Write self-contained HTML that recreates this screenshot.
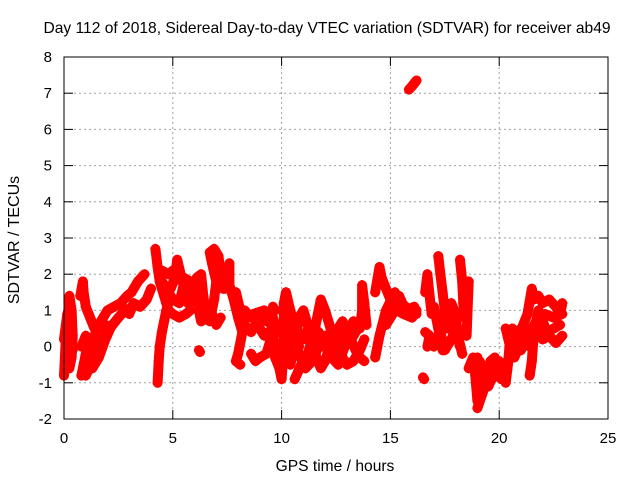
<!DOCTYPE html>
<html><head><meta charset="utf-8"><style>
body{margin:0;background:#fff}
svg{display:block;font-family:"Liberation Sans",sans-serif}
</style></head><body>
<svg id="chart" width="640" height="480" viewBox="0 0 640 480">
<rect width="640" height="480" fill="#fff"/>
<text x="327" y="33" font-size="15.6" text-anchor="middle">Day 112 of 2018, Sidereal Day-to-day VTEC variation (SDTVAR) for receiver ab49</text>
<g id="grid"></g>
<g id="ticks"></g>
<g id="marks"></g>
<rect x="64" y="57" width="544" height="362" fill="none" stroke="#000" stroke-width="1"/>
<text x="335" y="471" font-size="15.6" text-anchor="middle">GPS time / hours</text>
<text transform="translate(19,240) rotate(-90)" font-size="16" text-anchor="middle">SDTVAR / TECUs</text>
</svg>
<script>
const xTicks=[0,5,10,15,20,25];
const yTicks=[-2,-1,0,1,2,3,4,5,6,7,8];
const traceA=[[0,-0.8],[0.05,-0.2],[0.1,0.5],[0.2,1.0],[0.25,1.4],[0.35,1.0],[0.4,0.3],[0.35,-0.3],[0.25,-0.6],[0.15,-0.3],[0.1,0.3]];
const traceB=[[0.8,-0.8],[0.9,-0.5],[1.0,-0.2],[1.2,0],[1.4,0.3],[1.6,0.6],[1.8,0.8],[2.0,1.0],[2.3,1.1],[2.6,1.2],[2.9,1.4],[3.1,1.5],[3.4,1.8],[3.7,2.0]];
const traceC=[[0.75,1.4],[0.87,1.8],[0.9,1.5],[1.0,1.1],[1.2,0.8],[1.4,0.5],[1.6,0.5],[1.9,0.6]];
const traceD=[[0.8,0],[1.0,0.3],[1.2,-0.3],[1.3,-0.6],[1.6,-0.3],[1.9,0.2],[2.2,0.6]];
const traceE=[[3.0,0.9],[3.2,1.2],[3.5,1.1],[3.8,1.3],[4.0,1.6]];
const traceF=[[4.2,2.7],[4.3,2.2],[4.4,1.8],[4.5,1.6],[4.7,1.2],[4.8,1.0],[5.0,0.9],[5.3,0.8],[5.6,0.9],[5.8,1.0]];
const traceG=[[4.4,1.9],[4.6,1.7],[4.9,1.6],[5.1,1.9],[5.2,2.4],[5.4,1.9],[5.6,1.5],[5.7,1.2],[5.8,1.8],[5.5,1.9]];
const traceH=[[4.3,-1.0],[4.35,-0.4],[4.4,0],[4.5,0.4],[4.6,0.7],[4.7,1.0],[4.9,1.4]];
const traceI=[[6.1,1.2],[6.1,1.9],[6.3,2.0],[6.4,1.4],[6.5,1.0],[6.7,0.7],[6.9,1.3],[7.0,1.8],[6.8,2.3],[6.7,2.6],[6.9,2.7],[7.1,2.5],[7.2,2.0],[7.3,1.6],[7.4,1.6]];
const traceJ=[[6.2,1.0],[6.3,0.7],[6.6,0.8],[6.8,0.9],[7.0,0.6],[7.2,0.8]];
const traceK=[[6.2,-0.1],[6.25,-0.15]];
const traceL=[[7.6,2.3],[7.6,1.7],[7.8,1.3],[8.0,0.8],[8.2,0.4],[8.0,-0.2],[7.9,-0.4],[8.1,-0.5]];
const traceM=[[7.9,1.5],[8.1,1.0],[8.3,0.6],[8.6,0.4],[8.8,0.6],[9.0,0.5],[9.2,0.3],[9.4,0.4]];
const traceN=[[8.7,0.9],[9.2,1.0],[9.6,0.5],[9.7,-0.3],[9.9,-0.6],[10.0,-0.9],[10.1,0],[10.1,1.2],[10.2,1.5],[10.4,1.0],[10.6,0.5],[10.8,0]];
const traceO=[[8.6,-0.2],[8.8,-0.4],[9.0,-0.3],[9.3,-0.2],[9.5,0.2],[9.6,1.1],[9.7,1.0]];
const traceP=[[10.4,-0.5],[10.6,0.0],[10.8,0.8],[11.0,1.0],[11.2,0.6],[11.4,0.2],[11.6,-0.3],[11.8,-0.6],[12.0,-0.4],[12.2,0.0],[12.5,0.4],[12.8,0.7],[13.1,0.3],[13.4,-0.1],[13.6,-0.3],[13.8,-0.4]];
const traceQ=[[10.6,-0.9],[10.9,-0.5],[11.2,-0.2],[11.5,0.4],[11.8,1.3],[12.0,1.0],[12.2,0.6],[12.5,0.0],[12.8,-0.3],[13.0,-0.5],[13.3,-0.4],[13.6,-0.1],[13.8,0.2]];
const traceR=[[10.2,0.6],[10.5,0.3],[10.8,-0.2],[11.1,-0.6],[11.4,-0.4],[11.7,0.0],[12.0,0.3],[12.3,-0.3],[12.6,-0.5],[12.9,0],[13.2,0.2],[13.5,0.5]];
const traceS=[[13.6,0.5],[13.7,1.0],[13.7,1.7],[13.8,1.2],[13.9,0.6]];
const traceT=[[14.3,-0.3],[14.5,0.3],[14.8,1.0],[15.2,1.5],[15.5,1.2],[15.9,1.0],[16.2,0.9]];
const traceU=[[14.3,1.5],[14.5,2.2],[14.6,1.9],[14.8,1.6],[15.0,1.3],[15.3,1.0],[15.6,0.9],[16.0,0.8],[16.2,1.0]];
const traceV=[[15.85,7.1],[16.0,7.2],[16.2,7.35]];
const traceW=[[16.6,1.5],[16.7,2.0],[16.8,1.4],[16.9,0.9],[17.0,1.1],[17.2,0.5],[17.4,-0.1]];
const traceX=[[17.2,2.5],[17.3,2.0],[17.4,1.5],[17.5,1.0],[17.6,0.5],[17.7,0.8],[17.8,1.2],[18.0,0.9],[18.1,0.3],[18.3,-0.2]];
const traceY=[[16.6,0.4],[16.8,0.3],[16.7,0.0]];
const traceZ=[[18.2,2.4],[18.3,1.8],[18.35,1.2],[18.4,0.8],[18.5,1.0],[18.6,1.8],[18.5,0.3]];
const traceAA=[[16.5,-0.85],[16.55,-0.9]];
const traceAB=[[18.6,-0.6],[18.8,-0.3],[18.9,-0.8],[19.0,-1.5],[19.1,-1.1],[19.3,-0.8],[19.5,-0.7],[19.7,-0.5],[19.9,-0.6],[20.1,-0.9],[20.2,-0.8]];
const traceAC=[[18.9,-0.5],[19.1,-0.4],[19.3,-0.7],[19.6,-0.9],[19.9,-0.8]];
const traceAD=[[19.0,-0.3],[19.3,-1.0],[19.6,-0.4],[19.8,-0.3],[19.0,-1.7]];
const traceAE=[[20.3,-1.0],[20.4,-0.5],[20.5,0.2],[20.6,0.5],[20.8,0.3],[21.0,0.5],[21.2,0.2],[21.4,0.0],[21.6,0.3],[21.8,0.4],[22.0,0.2],[22.3,0.3],[22.6,0.1],[22.9,0.3]];
const traceAF=[[20.3,0.5],[20.5,0.0],[20.7,-0.3],[20.9,0.0],[21.1,0.6],[21.3,0.9],[21.5,1.6],[21.6,1.3],[21.8,1.4],[22.0,1.2],[22.3,1.3],[22.6,1.1],[22.8,0.9],[22.9,1.2]];
const traceAG=[[21.4,-0.8],[21.5,-0.4],[21.6,0.4],[21.8,1.0],[22.0,0.7],[22.2,0.4],[22.5,0.5],[22.8,0.6]];
const traceAH=[[0.0,0.2],[0.15,0.9],[0.3,0.5],[0.4,-0.1],[0.2,0.0]];
const traceAI=[[1.0,-0.8],[1.3,-0.4],[1.6,0.0],[1.9,0.3],[2.1,0.5],[2.5,0.8],[2.8,1.0],[3.2,1.1]];
const traceAJ=[[4.5,2.1],[4.8,2.0],[5.0,2.1],[5.3,2.0],[5.5,1.7],[5.3,1.2],[5.0,1.3],[4.8,1.5]];
const traceAK=[[8.3,1.0],[8.6,0.8],[8.9,0.9],[9.3,0.7],[9.6,0.8],[9.8,0.4]];
const traceAL=[[10.3,-0.2],[10.7,0.4],[11.0,0.2],[11.3,0.6],[11.7,0.4],[12.1,-0.1],[12.4,0.2],[12.7,0.1],[13.0,0.4],[13.3,0.7]];
const traceAM=[[14.8,0.6],[15.1,0.9],[15.4,1.4],[15.7,1.0],[16.1,1.1]];
const traceAN=[[17.0,0.0],[17.3,0.4],[17.5,-0.1],[17.8,0.2],[18.0,0.5],[18.2,0.0]];
const traceAO=[[19.2,-0.6],[19.5,-1.1],[19.8,-0.7],[20.0,-0.4],[20.2,-0.6]];
const traceAP=[[21.0,-0.1],[21.3,0.3],[21.7,0.7],[22.1,0.9],[22.5,0.8],[22.9,0.9]];
const traces=[traceA,traceB,traceC,traceD,traceE,traceF,traceG,traceH,traceI,traceJ,traceK,traceL,traceM,traceN,traceO,traceP,traceQ,traceR,traceS,traceT,traceU,traceV,traceW,traceX,traceY,traceZ,traceAA,traceAB,traceAC,traceAD,traceAE,traceAF,traceAG,traceAH,traceAI,traceAJ,traceAK,traceAL,traceAM,traceAN,traceAO,traceAP];

const NS="http://www.w3.org/2000/svg";
function xs(h){return 64+h*(544/25);}
function ys(v){return 419-(v+2)*(362/10);}
const grid=document.getElementById('grid'),ticks=document.getElementById('ticks'),marks=document.getElementById('marks');
function mk(tag,attrs,parent){const e=document.createElementNS(NS,tag);for(const k in attrs)e.setAttribute(k,attrs[k]);parent.appendChild(e);return e;}
xTicks.forEach(t=>{
  const x=xs(t);
  if(t>0&&t<25){const g=mk('line',{x1:x,x2:x,y1:57,y2:419,stroke:'#a0a0a0','stroke-dasharray':'2,3'},grid);
  
  }
  mk('line',{x1:x,x2:x,y1:419,y2:410,stroke:'#000'},ticks);
  mk('line',{x1:x,x2:x,y1:57,y2:66,stroke:'#000'},ticks);
  const l=mk('text',{x:x,y:443,'font-size':15,'text-anchor':'middle'},ticks);l.textContent=t;
  
  
});
yTicks.forEach(t=>{
  const y=ys(t);
  if(t>-2&&t<8){const g=mk('line',{x1:64,x2:608,y1:y,y2:y,stroke:'#a0a0a0','stroke-dasharray':'2,3'},grid);
  
  }
  mk('line',{x1:64,x2:73,y1:y,y2:y,stroke:'#000'},ticks);
  mk('line',{x1:599,x2:608,y1:y,y2:y,stroke:'#000'},ticks);
  const l=mk('text',{x:52,y:y+5,'font-size':15,'text-anchor':'end'},ticks);l.textContent=t;
  
  
});
traces.forEach(tr=>{
  const pts=tr.map(p=>xs(p[0]).toFixed(1)+','+ys(p[1]).toFixed(1)).join(' ');
  const pl=mk('polyline',{points:pts,fill:'none',stroke:'#ff0000','stroke-width':10,'stroke-linejoin':'round','stroke-linecap':'round'},marks);
  
  
  tr.forEach(p=>{
    const x=xs(p[0]),y=ys(p[1]);
    const m=mk('path',{d:`M${x-5},${y}H${x+5}M${x},${y-5}V${y+5}`,stroke:'#ff0000','stroke-width':1.5},marks);
    
    
  });
});
</script>
</body></html>
